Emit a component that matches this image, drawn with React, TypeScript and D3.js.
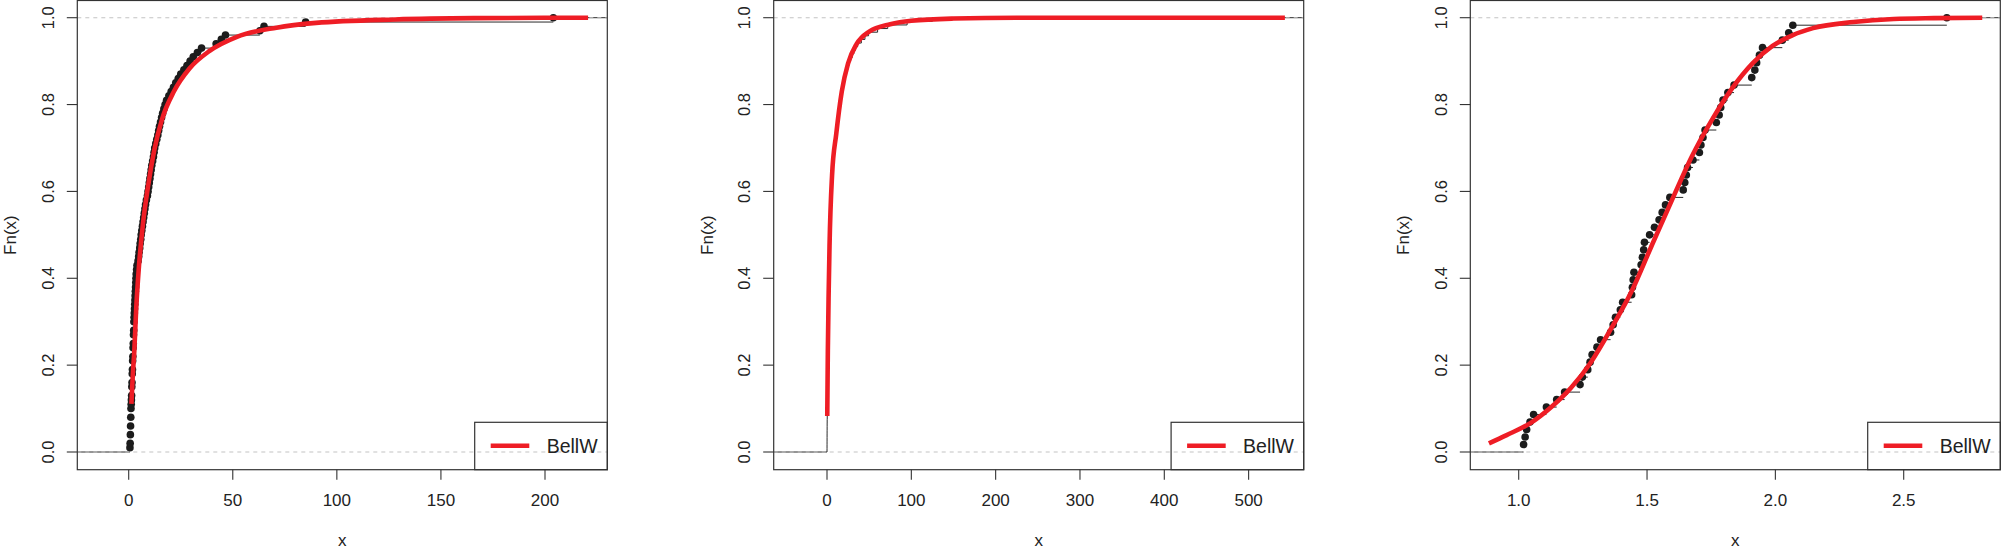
import React from "react";
import * as d3 from "d3";

const W = 2001;
const H = 550;
const FONT = "'Liberation Sans', Arial, Helvetica, sans-serif";

// ---------------- data ----------------
// panel 1 : observed sample (ECDF points)
const sample1 = [
  0.6, 0.7, 0.8, 0.8, 0.9, 0.9, 1.0, 1.0, 1.1, 1.1, 1.2, 1.3,
  1.4, 1.5, 1.5, 1.6, 1.7, 1.7, 1.8, 1.9, 1.9, 2.0, 2.1, 2.1, 2.2, 2.3, 2.3, 2.4, 2.5, 2.5,
  2.6, 2.7, 2.8, 2.9, 3.0, 3.1, 3.2, 3.3, 3.4, 3.5, 3.6, 3.8, 4.0,
  4.5, 4.8, 5.0, 5.3, 5.5, 5.8, 6.0, 6.3, 6.6, 6.9, 7.2, 7.5, 7.8, 8.1, 8.5,
  9.0, 9.3, 9.6, 9.9, 10.2, 10.5, 10.8, 11.1, 11.5, 11.9, 12.2, 12.5,
  13.0, 13.5, 14.0, 14.4, 14.8, 15.3, 15.8, 16.3, 16.9, 17.5,
  18.2, 19.3, 20.4, 21.5, 22.6, 23.8, 25.0,
  26.5, 28.0, 29.5, 31.0, 33.0, 35.0,
  42.0, 44.5, 46.5, 63.0, 65.0, 85.0, 204.0,
];
// panel 1 : fitted BellW cdf
const fit1X = [1.3, 2.0, 2.7, 3.6, 4.9, 6.8, 9.3, 12.2, 16.0, 21.7, 29.2, 38.7, 52.0, 71.0, 90.0, 128.0, 166.0, 220.7];
const fit1F = [0.111, 0.18, 0.233, 0.33, 0.426, 0.523, 0.612, 0.693, 0.766, 0.83, 0.883, 0.923, 0.956, 0.977, 0.988, 0.996, 0.999, 1.0];

// panel 2 : observed sample (ECDF line only)
const sample2 = [
  0.02, 0.04, 0.06, 0.08, 0.1, 0.12, 0.15, 0.18, 0.22, 0.28,
  0.34, 0.38, 0.42, 0.46, 0.5, 0.53, 0.57, 0.61, 0.65, 0.69,
  0.73, 0.77, 0.81, 0.85, 0.89, 0.92, 0.96, 1.0, 1.06, 1.12,
  1.18, 1.24, 1.3, 1.36, 1.42, 1.48, 1.55, 1.61, 1.67, 1.73,
  1.79, 1.85, 1.91, 1.97, 2.05, 2.13, 2.21, 2.29, 2.36, 2.44,
  2.52, 2.6, 2.68, 2.76, 2.84, 2.92, 3.0, 3.15, 3.3, 3.46,
  3.61, 3.77, 3.92, 4.08, 4.23, 4.39, 4.54, 4.7, 4.85, 5.0,
  5.16, 5.31, 5.47, 5.62, 5.78, 5.93, 6.24, 6.68, 7.1, 7.5,
  7.96, 8.4, 8.85, 9.3, 9.7, 10.15, 10.6, 11.0, 11.6, 12.1,
  12.7, 13.2, 13.8, 14.4, 14.9, 15.5, 16.0, 16.6, 17.2, 17.9,
  18.8, 19.8, 20.8, 21.7, 22.7, 23.6, 24.6, 26.1, 28.0, 30.0,
  31.8, 33.7, 36.4, 40.7, 45.0, 49.3, 60.0, 72.0, 95.0, 125.0,
];
const fit2X = [0.3, 1.0, 2.0, 3.0, 6.0, 11.0, 17.5, 25.0, 35.0, 50.0, 75.0, 100.0, 150.0, 225.0, 543.0];
const fit2F = [0.083, 0.233, 0.37, 0.475, 0.637, 0.733, 0.83, 0.895, 0.939, 0.968, 0.985, 0.993, 0.998, 1.0, 1.0];

// panel 3 : observed sample
const sample3 = [
  1.019, 1.025, 1.031, 1.044, 1.058, 1.108, 1.148, 1.179, 1.239, 1.248,
  1.269, 1.278, 1.286, 1.305, 1.319, 1.358, 1.368, 1.377, 1.396, 1.405,
  1.44, 1.443, 1.446, 1.449, 1.477, 1.482, 1.487, 1.49, 1.51, 1.529,
  1.547, 1.559, 1.572, 1.589, 1.641, 1.647, 1.653, 1.658, 1.679, 1.704,
  1.71, 1.718, 1.726, 1.77, 1.781, 1.787, 1.796, 1.815, 1.839, 1.908,
  1.92, 1.927, 1.938, 1.95, 2.027, 2.052, 2.068, 2.668,
];
const fit3X = [0.884, 0.953, 1.047, 1.126, 1.204, 1.283, 1.361, 1.44, 1.518, 1.597, 1.675, 1.754, 1.832, 1.911, 1.989, 2.068, 2.147, 2.304, 2.461, 2.618, 2.806];
const fit3F = [0.02, 0.039, 0.067, 0.103, 0.148, 0.208, 0.285, 0.37, 0.475, 0.58, 0.681, 0.766, 0.838, 0.895, 0.935, 0.96, 0.976, 0.99, 0.997, 0.999, 1.0];

const xTicks1 = [0, 50, 100, 150, 200];
const xTicks2 = [0, 100, 200, 300, 400, 500];
const xTicks3 = [1.0, 1.5, 2.0, 2.5];
const yTicks = [0, 0.2, 0.4, 0.6, 0.8, 1.0];
const legendLabel = "BellW";
const xTitle = "x";
const yTitle = "Fn(x)";

// ---------------- layout ----------------
const BOX_W = 530;
const BOX_TOP = 0.5;
const BOX_BOTTOM = 469.7;
const Y0 = 452;
const Y1 = 17.7;
const RED = "#ee1d25";

type Cfg = {
  id: string;
  left: number;
  domain: [number, number];
  range: [number, number];
  ticks: number[];
  fmt: (v: number) => string;
  sample: number[];
  fitX: number[];
  fitF: number[];
  points: boolean;
};

const panels: Cfg[] = [
  { id: "p1", left: 77.3, domain: [0, 200], range: [128.7, 545], ticks: xTicks1, fmt: d3.format("d"), sample: sample1, fitX: fit1X, fitF: fit1F, points: true },
  { id: "p2", left: 773.7, domain: [0, 400], range: [827, 1164.3], ticks: xTicks2, fmt: d3.format("d"), sample: sample2, fitX: fit2X, fitF: fit2F, points: false },
  { id: "p3", left: 1470.3, domain: [1.0, 2.5], range: [1518.7, 1903.7], ticks: xTicks3, fmt: d3.format(".1f"), sample: sample3, fitX: fit3X, fitF: fit3F, points: true },
];

function Panel({ cfg }: { cfg: Cfg }) {
  const left = cfg.left;
  const right = left + BOX_W;
  const x = d3.scaleLinear().domain(cfg.domain).range(cfg.range);
  const y = d3.scaleLinear().domain([0, 1]).range([Y0, Y1]);
  const sorted = [...cfg.sample].sort(d3.ascending);
  const n = sorted.length;
  const knots = Array.from(new Set(sorted));
  const Fk = knots.map((k) => d3.bisectRight(sorted, k) / n);
  const xlo = x.invert(left);
  const xhi = x.invert(right);

  const fitData = cfg.fitX.map((v, i) => [v, cfg.fitF[i]] as [number, number]);
  const fitLine = d3
    .line<[number, number]>()
    .x((d) => x(d[0]))
    .y((d) => y(d[1]))
    .curve(d3.curveMonotoneX)(fitData) as string;

  const stepData: [number, number][] = [[xlo, 0], ...knots.map((k, i) => [k, Fk[i]] as [number, number]), [xhi, 1]];
  const stepPath = d3
    .line<[number, number]>()
    .x((d) => x(d[0]))
    .y((d) => y(d[1]))
    .curve(d3.curveStepAfter)(stepData) as string;

  const segs: { x1: number; x2: number; f: number }[] = [];
  segs.push({ x1: xlo, x2: knots[0], f: 0 });
  knots.forEach((k, i) => {
    segs.push({ x1: k, x2: i < knots.length - 1 ? knots[i + 1] : xhi, f: Fk[i] });
  });

  const cx = (left + right) / 2;
  const cy = (BOX_TOP + BOX_BOTTOM) / 2;
  const legW = 132.6;
  const legTop = 422.3;
  const legLeft = right - legW;
  const legY = 445.7;

  return (
    <g>
      <defs>
        <clipPath id={"clip-" + cfg.id}>
          <rect x={left} y={BOX_TOP} width={BOX_W} height={BOX_BOTTOM - BOX_TOP} />
        </clipPath>
      </defs>
      <g clipPath={`url(#clip-${cfg.id})`}>
        {cfg.points ? (
          <g>
            {segs.map((s, i) => (
              <line key={"s" + i} x1={x(s.x1)} x2={x(s.x2)} y1={y(s.f)} y2={y(s.f)} stroke="#2a2a2a" strokeWidth={1} />
            ))}
          </g>
        ) : (
          <path d={stepPath} fill="none" stroke="#2a2a2a" strokeWidth={1} />
        )}
        {cfg.points &&
          knots.map((k, i) => <circle key={"c" + i} cx={x(k)} cy={y(Fk[i])} r={3.8} fill="#1c1c1c" />)}
        {[0, 1].map((h) => (
          <line key={"h" + h} x1={left} x2={right} y1={y(h)} y2={y(h)} stroke="#c4c4c4" strokeWidth={1.1} strokeDasharray="4,4" />
        ))}
        <path d={fitLine} fill="none" stroke={RED} strokeWidth={4.6} strokeLinejoin="round" />
      </g>
      {/* box */}
      <rect x={left} y={BOX_TOP} width={BOX_W} height={BOX_BOTTOM - BOX_TOP} fill="none" stroke="#333" strokeWidth={1.2} />
      {/* legend */}
      <rect x={legLeft} y={legTop} width={legW} height={BOX_BOTTOM - legTop} fill="none" stroke="#333" strokeWidth={1.2} />
      <line x1={legLeft + 16} x2={legLeft + 54.6} y1={legY} y2={legY} stroke={RED} strokeWidth={4.4} />
      <text x={legLeft + 72} y={legY + 7} fontFamily={FONT} fontSize={19.5} fill="#222">
        {legendLabel}
      </text>
      {/* x axis */}
      {cfg.ticks.map((t) => (
        <g key={"xt" + t}>
          <line x1={x(t)} x2={x(t)} y1={BOX_BOTTOM} y2={BOX_BOTTOM + 10} stroke="#333" strokeWidth={1.1} />
          <text x={x(t)} y={505.5} textAnchor="middle" fontFamily={FONT} fontSize={17} fill="#222">
            {cfg.fmt(t)}
          </text>
        </g>
      ))}
      {/* y axis */}
      {yTicks.map((t) => (
        <g key={"yt" + t}>
          <line x1={left - 10.5} x2={left} y1={y(t)} y2={y(t)} stroke="#333" strokeWidth={1.1} />
          <text
            transform={`translate(${left - 23.5},${y(t)}) rotate(-90)`}
            textAnchor="middle"
            fontFamily={FONT}
            fontSize={16.5}
            fill="#222"
          >
            {d3.format(".1f")(t)}
          </text>
        </g>
      ))}
      <text x={cx} y={546} textAnchor="middle" fontFamily={FONT} fontSize={17} fill="#222">
        {xTitle}
      </text>
      <text
        transform={`translate(${left - 61},${cy}) rotate(-90)`}
        textAnchor="middle"
        fontFamily={FONT}
        fontSize={17}
        fill="#222"
      >
        {yTitle}
      </text>
    </g>
  );
}

export default function App() {
  return (
    <svg
      width={W}
      height={H}
      viewBox={`0 0 ${W} ${H}`}
      style={{ position: "absolute", left: 0, top: 0, background: "#fff" }}
    >
      <rect x={0} y={0} width={W} height={H} fill="#fff" />
      {panels.map((p) => (
        <Panel key={p.id} cfg={p} />
      ))}
    </svg>
  );
}
